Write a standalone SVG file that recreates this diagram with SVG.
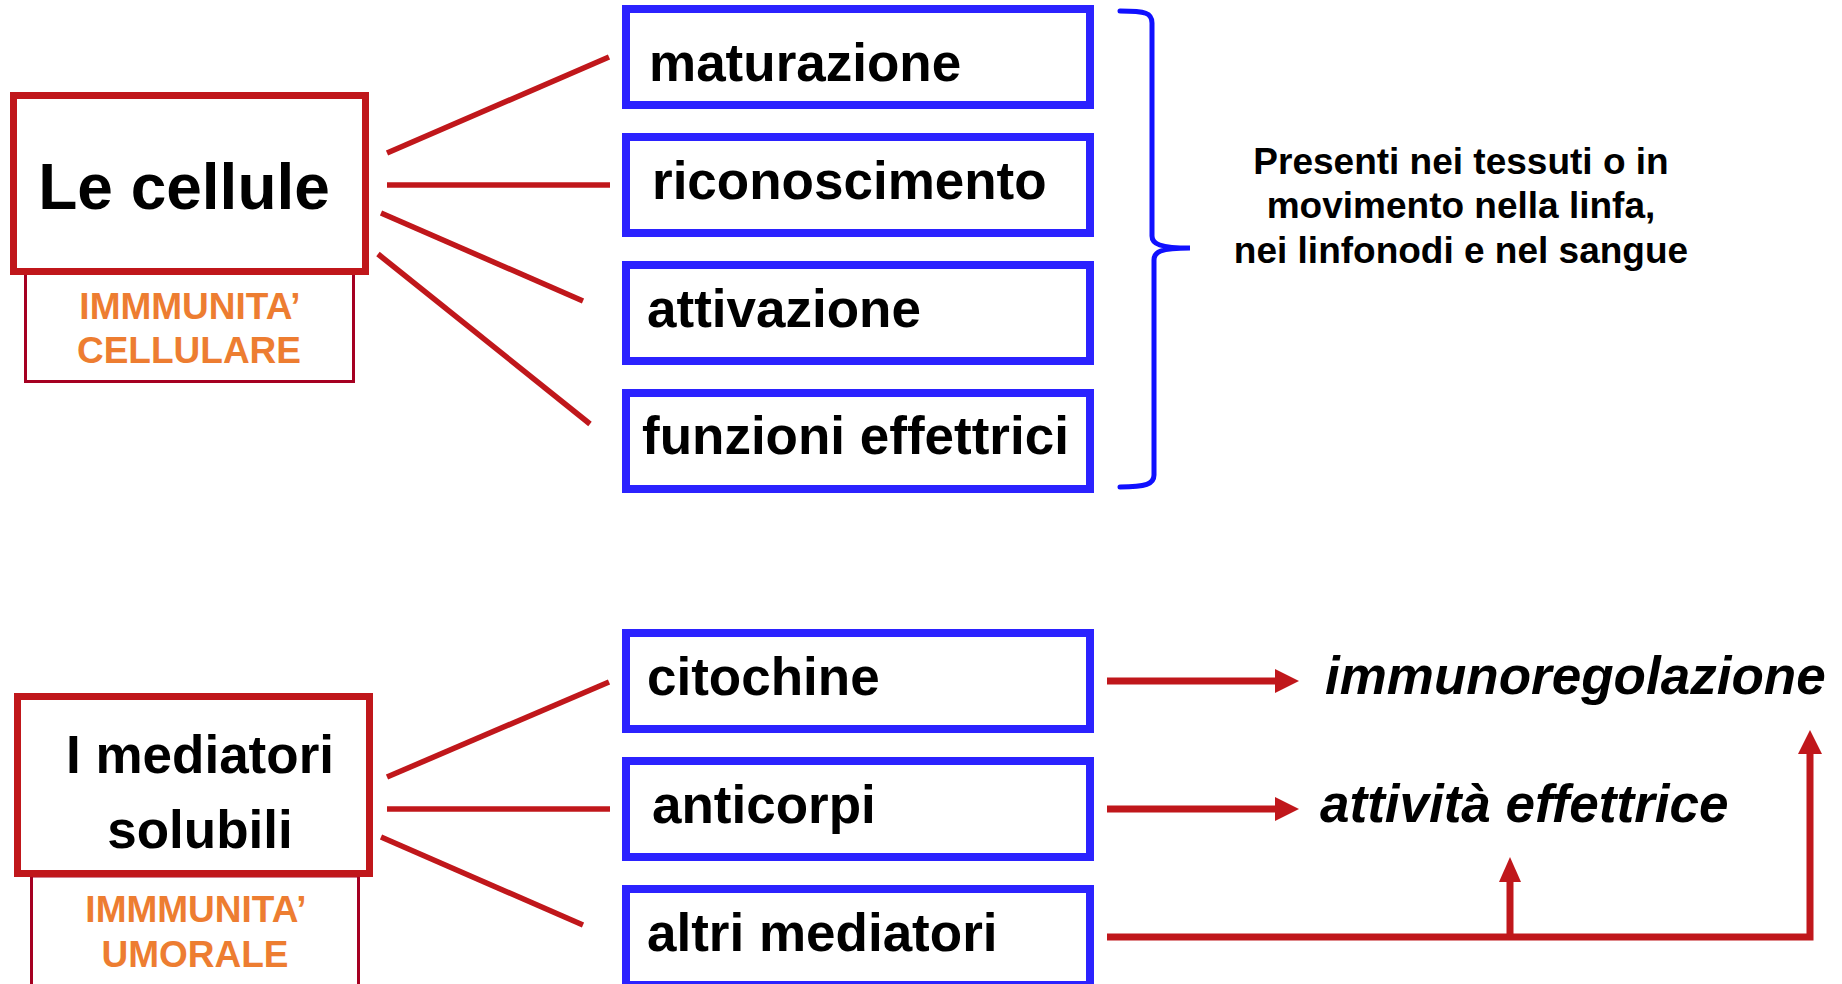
<svg xmlns="http://www.w3.org/2000/svg" width="1842" height="984" viewBox="0 0 1842 984">
<style>
.bg{fill:#FFFFFF}
.main{fill:#FFFFFF;stroke:#C0171B;stroke-width:7}
.sub{fill:#FFFFFF;stroke:#A50021;stroke-width:3}
.blue{fill:#FFFFFF;stroke:#2B22FF;stroke-width:8}
.t{font-family:"Liberation Sans",Arial,sans-serif;font-weight:bold;fill:#000000}
.big{font-size:64px}
.mid{font-size:53px}
.or{font-family:"Liberation Sans",Arial,sans-serif;font-weight:bold;font-size:37px;fill:#ED7D31}
.note{font-size:37px}
.it{font-style:italic;font-size:53px}
.ln{stroke:#C0171B;stroke-width:5.5;fill:none}
.ar{stroke:#C0171B;stroke-width:7;fill:none}
.head{fill:#C0171B}
.brace{stroke:#1010FF;stroke-width:5;fill:none;stroke-linecap:round}
</style>
<rect class="bg" x="0" y="0" width="1842" height="984"/>

<g id="connectors">
  <line class="ln" x1="387" y1="153" x2="609" y2="57"/>
  <line class="ln" x1="387" y1="185" x2="610" y2="185"/>
  <line class="ln" x1="381" y1="213" x2="583" y2="301"/>
  <line class="ln" x1="378" y1="254" x2="590" y2="424"/>
  <line class="ln" x1="387" y1="777" x2="609" y2="682"/>
  <line class="ln" x1="387" y1="809" x2="610" y2="809"/>
  <line class="ln" x1="381" y1="837" x2="583" y2="925"/>
  <line class="ar" x1="1107" y1="681" x2="1277" y2="681"/>
  <polygon class="head" points="1275,669 1299,681 1275,693"/>
  <line class="ar" x1="1107" y1="809" x2="1277" y2="809"/>
  <polygon class="head" points="1275,797 1299,809 1275,821"/>
  <polyline class="ar" points="1107,937 1810,937 1810,752"/>
  <polygon class="head" points="1798,754 1810,730 1822,754"/>
  <line class="ar" x1="1510" y1="937" x2="1510" y2="880"/>
  <polygon class="head" points="1499,882 1510,857 1521,882"/>
  <path class="brace" d="M1120,11 C1146,11 1152,13 1152,23 L1152,236 C1152,244 1160,248 1190,248 C1160,248 1154,252 1154,260 L1154,475 C1154,484 1146,487 1120,487"/>
</g>

<g id="cellule">
  <rect class="sub" x="25.5" y="272.5" width="328" height="109"/>
  <rect class="main" x="13.5" y="95.5" width="352" height="176"/>
  <text class="t big" x="184" y="209" text-anchor="middle">Le cellule</text>
  <text class="or" x="190" y="319" text-anchor="middle">IMMMUNITA’</text>
  <text class="or" x="189" y="363" text-anchor="middle">CELLULARE</text>
</g>

<g id="mediatori">
  <rect class="sub" x="31.5" y="876" width="327" height="130"/>
  <rect class="main" x="17.5" y="696.5" width="352" height="177"/>
  <text class="t mid" x="200" y="773" text-anchor="middle">I mediatori</text>
  <text class="t mid" x="200" y="848" text-anchor="middle">solubili</text>
  <text class="or" x="196" y="922" text-anchor="middle">IMMMUNITA’</text>
  <text class="or" x="195" y="967" text-anchor="middle">UMORALE</text>
</g>

<g id="maturazione">
  <rect class="blue" x="626" y="9" width="464" height="96"/>
  <text class="t mid" x="649" y="81">maturazione</text>
</g>
<g id="riconoscimento">
  <rect class="blue" x="626" y="137" width="464" height="96"/>
  <text class="t mid" x="652" y="199">riconoscimento</text>
</g>
<g id="attivazione">
  <rect class="blue" x="626" y="265" width="464" height="96"/>
  <text class="t mid" x="647" y="327">attivazione</text>
</g>
<g id="funzioni">
  <rect class="blue" x="626" y="393" width="464" height="96"/>
  <text class="t mid" x="642" y="454">funzioni effettrici</text>
</g>
<g id="citochine">
  <rect class="blue" x="626" y="633" width="464" height="96"/>
  <text class="t mid" x="647" y="695">citochine</text>
</g>
<g id="anticorpi">
  <rect class="blue" x="626" y="761" width="464" height="96"/>
  <text class="t mid" x="652" y="823">anticorpi</text>
</g>
<g id="altri">
  <rect class="blue" x="626" y="889" width="464" height="96"/>
  <text class="t mid" x="647" y="951">altri mediatori</text>
</g>

<g id="note">
  <text class="t note" x="1461" y="174" text-anchor="middle">Presenti nei tessuti o in</text>
  <text class="t note" x="1461" y="218" text-anchor="middle">movimento nella linfa,</text>
  <text class="t note" x="1461" y="263" text-anchor="middle">nei linfonodi e nel sangue</text>
</g>

<g id="immunoregolazione">
  <text class="t it" x="1325" y="694">immunoregolazione</text>
</g>
<g id="attivita">
  <text class="t it" x="1320" y="822">attività effettrice</text>
</g>
</svg>
